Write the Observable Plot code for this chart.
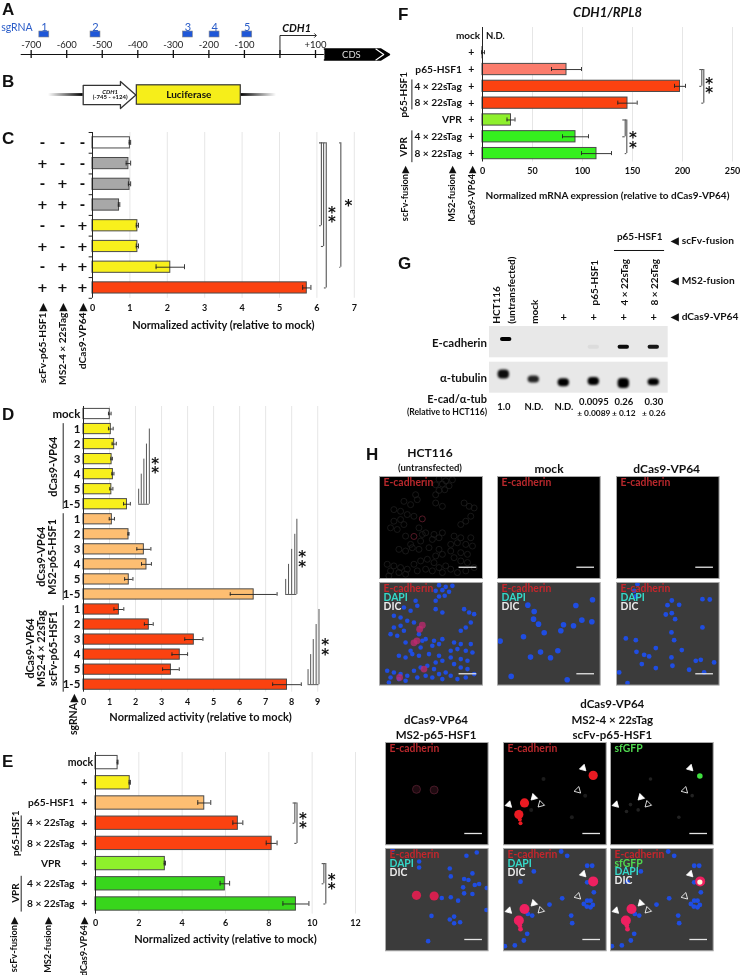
<!DOCTYPE html>
<html><head><meta charset="utf-8">
<script src="https://cdn.jsdelivr.net/npm/d3@7"></script>
<script src="https://cdn.jsdelivr.net/npm/@observablehq/plot@0.6"></script>
<style>
html,body{margin:0;padding:0;background:#fff}
#root{position:relative;width:741px;height:975px;overflow:hidden;filter:blur(0.3px)}
#root svg{position:absolute;max-width:none}
.letter{position:absolute;font:bold 17px "Liberation Sans",sans-serif;color:#111;line-height:1}
.head{position:absolute;font:bold 12px Lato,sans-serif;color:#111;transform:translate(-50%,-50%);white-space:nowrap}
</style></head><body><div id="root"></div>
<script>
// ---------- Panel C ----------
const cCols = ["scFv-p65-HSF1","MS2-4 × 22sTag","dCas9-VP64"];
const cMatrix = [["-","-","-"],["+","-","-"],["-","+","-"],["+","+","-"],["-","-","+"],["+","-","+"],["-","+","+"],["+","+","+"]];
const cValues = [1.0,0.96,0.99,0.71,1.2,1.2,2.08,5.73];
const cErrors = [0.02,0.06,0.03,0.02,0.03,0.03,0.38,0.11];
const cGroups = ["mock","gray","gray","gray","yellow","yellow","yellow","red"];
// ---------- Panel D ----------
const dLabels = ["mock","1","2","3","4","5","1-5","1","2","3","4","5","1-5","1","2","3","4","5","1-5"];
const dValues = [1.01,1.05,1.18,1.08,1.13,1.07,1.67,1.09,1.73,2.32,2.42,1.74,6.54,1.36,2.51,4.24,3.7,3.36,7.82];
const dErrors = [0.05,0.09,0.08,0.03,0.04,0.06,0.13,0.1,0.02,0.27,0.19,0.16,0.9,0.19,0.17,0.35,0.3,0.32,0.55];
const dGroups = ["mock","yellow","yellow","yellow","yellow","yellow","yellow","orange","orange","orange","orange","orange","orange","red","red","red","red","red","red"];
// ---------- Panel E ----------
const eNames = ["mock","","p65-HSF1","4 × 22sTag","8 × 22sTag","VPR","4 × 22sTag","8 × 22sTag"];
const eValues = [1.02,1.58,5.02,6.57,8.13,3.2,5.97,9.25];
const eErrors = [0.02,0.03,0.3,0.23,0.25,0.03,0.22,0.6];
const eGroups = ["mock","yellow","orange","red","red","lime","green","green"];
// ---------- Panel F ----------
const fNames = ["mock","","p65-HSF1","4 × 22sTag","8 × 22sTag","VPR","4 × 22sTag","8 × 22sTag"];
const fValues = [null,0.5,84,197.5,145,28.5,93,114];
const fErrors = [null,1.5,15,5.5,9.7,4,13,15];
const fGroups = ["mock","dark","salmon","red","red","lime","bright","bright"];
// ---------- Panel A ----------
const aTicks = [-700,-600,-500,-400,-300,-200,-100,0,100];
const aTickLabels = ["-700","-600","-500","-400","-300","-200","-100","","+100"];
const aGuides = [-663,-519,-259,-184,-92];
const aGuideNames = ["1","2","3","4","5"];
// ---------- Panel G ----------
const gLanes = [0,1,2,3,4,5];
const gEcadSignal = [1,0,0,0.05,0.95,0.9];
const gEcadPos = [13,20,20,20.7,20.7,20.7];
const gTubSignal = [0.95,0.85,1,1,1,1];
const gTubPos = [48,53,56.3,55,57,55.7];
const gTubThick = [9,7,8,8,10,7];
const gRatio = ["1.0","N.D.","N.D.","0.0095","0.26","0.30"];
const gRatioErr = ["","","","± 0.0089","± 0.12","± 0.26"];
// ---------- Panel H (cell positions in the field, 0-308) ----------
const hctCells = [[178,8],[198,13],[218,10],[168,25],[188,23],[208,28],[178,42],[195,40],[168,55],[108,55],[113,70],[73,75],[93,85],[168,80],[188,90],[43,100],[63,105],[83,115],[103,120],[63,130],[43,135],[73,145],[33,155],[53,160],[118,155],[138,170],[78,180],[128,175],[163,175],[188,170],[158,190],[178,185],[123,195],[93,205],[253,80],[268,90],[283,95],[258,135],[273,120],[243,145],[223,180],[243,185],[233,200],[213,205],[273,185],[258,205],[278,210],[243,230],[263,235],[58,220],[78,225],[98,215],[118,220],[148,215],[178,220],[188,235],[168,240],[213,225],[23,265],[43,270],[63,275],[83,280],[33,285],[58,290],[78,295],[103,265],[123,255],[143,250],[163,260],[113,285],[138,280],[158,285],[178,275],[198,270],[188,290],[213,280],[233,290],[258,285],[283,275],[28,300],[223,245],[243,255],[263,260]];
const hctRed = [[128,128],[103,181],[60,285],[133,260],[120,140],[112,175]];
const mockCells = [[91,68],[110,87],[108,110],[123,125],[140,151],[190,145],[198,127],[228,130],[253,113],[283,118],[235,69],[285,52],[78,163],[8,176],[129,209],[181,205],[99,224],[159,226],[41,282],[209,292]];
const dcasCells = [[63,5],[53,25],[58,42],[166,54],[188,67],[153,68],[258,50],[280,51],[148,96],[166,92],[176,110],[258,135],[165,150],[173,173],[58,173],[28,168],[196,203],[60,208],[83,217],[98,222],[118,197],[165,225],[76,245],[118,257],[168,250],[253,232],[238,235],[293,240],[218,262],[8,270],[33,302],[263,270]];
const ms2Cells = [[274,12],[243,22],[101,39],[193,60],[196,84],[261,75],[236,92],[249,95],[281,107],[268,110],[304,119],[233,117],[261,137],[236,135],[196,147],[218,157],[303,185],[193,214],[206,205],[224,222],[206,225],[138,203],[128,279],[169,149],[21,4],[101,57]];
const ms2Red = [[93,141],[146,143]];
const synCells = [[51,100],[91,69],[173,9],[191,22],[251,52],[266,52],[251,102],[271,132],[251,157],[261,177],[241,167],[261,157],[138,169],[86,202],[203,202],[206,225],[73,197],[71,257],[61,277],[34,292],[4,294],[176,150],[250,175],[268,170]];
const synRed = [[46,217],[63,182],[269,99]];
const synTail = [[49,232],[51,243]];
const synGreen = [[268,101]];
const synFilled = [[16,187,135],[91,165,225],[239,77,135]];
const synHollow = [[112,186,225],[223,144,135]];
const synFaint = [[48,208],[83,203],[60,187],[245,160],[205,225],[120,110]];
const scaleBar = [238,291];

const palette = {mock:"#ffffff",gray:"#a8a8a8",yellow:"#f8f01c",orange:"#fdbe72",red:"#fb4210",
  lime:"#8ef02c",green:"#38d61c",bright:"#35f01e",salmon:"#fb7c6c",dark:"#222"};
const BAR_STROKE = "#4a4a4a", BRACKET = "#555", GRID = "#e6e6e6", FONT = "Lato";
const ARROW = "\u2009▶";
const root = document.getElementById("root");

function panel({frame,pad=[0,0,0,0],x,y,marks}){
  const [x0,y0,x1,y1]=frame,[pl,pt,pr,pb]=pad;
  const el = Plot.plot({
    width:x1-x0+pl+pr,height:y1-y0+pt+pb,
    marginLeft:pl,marginTop:pt,marginRight:pr,marginBottom:pb,
    x:{axis:null,...x},y:{axis:null,...y},
    style:{background:"none",overflow:"visible",fontFamily:FONT},
    marks});
  el.style.left=(x0-pl)+"px";el.style.top=(y0-pt)+"px";
  root.appendChild(el);
}
const T=(data,o)=>Plot.text(data,{fontFamily:FONT,fontWeight:"bold",fill:"#111",lineAnchor:"middle",...o});
const rowsOf=(values,errors,groups,names)=>values.map((v,i)=>({i,v,e:errors[i],g:groups[i],name:names?names[i]:null}));

function barMarks(rows,ticks,half,title,titleDy,titleSize=11){
  const b=rows.filter(d=>d.v!=null);
  return [
    Plot.ruleX(ticks.filter(t=>t>0),{stroke:GRID,strokeWidth:1}),
    Plot.rect(b,{x1:()=>0,x2:"v",y1:d=>d.i-half,y2:d=>d.i+half,fill:d=>palette[d.g],stroke:BAR_STROKE,strokeWidth:1}),
    Plot.ruleX([0],{stroke:"#222",strokeWidth:1}),
    Plot.ruleY(b,{y:"i",x1:d=>d.v-d.e,x2:d=>d.v+d.e,stroke:"#222",strokeWidth:0.9}),
    Plot.ruleX(b,{x:d=>d.v-d.e,y1:d=>d.i-0.12,y2:d=>d.i+0.12,stroke:"#222",strokeWidth:0.9}),
    Plot.ruleX(b,{x:d=>d.v+d.e,y1:d=>d.i-0.12,y2:d=>d.i+0.12,stroke:"#222",strokeWidth:0.9}),
    Plot.axisX({ticks,tickSize:0,tickPadding:6,label:null,fontWeight:"bold",fontSize:9,fontFamily:FONT,fill:"#111",tickFormat:d3.format("d")}),
    T([title],{frameAnchor:"bottom",dy:titleDy,fontSize:titleSize})
  ];
}
// bracket: vertical rule at x from row a to row b, with caps reaching to cap
const bracket=(list,stroke=BRACKET)=>[
  Plot.ruleX(list,{x:"x",y1:"a",y2:"b",stroke,strokeWidth:1.1}),
  Plot.ruleY(list,{y:"a",x1:"cap",x2:"x",stroke,strokeWidth:1.1}),
  Plot.ruleY(list,{y:"b",x1:"cap",x2:"x",stroke,strokeWidth:1.1})
];
const stars=(list)=>T(list,{x:"x",y:"y",text:"s",fontFamily:"DejaVu Sans",fontSize:15,lineHeight:0.62,fill:"#111",dy:2.5});

// ===== Panel A =====
const cdsBody=[[125,5.5],[283,5.5],[308,0],[283,-5.5],[125,-5.5]];
panel({frame:[20,20,390,60],pad:[20,10,0,0],x:{domain:[-730,311]},y:{domain:[-6,34]},marks:[
  Plot.ruleY([0],{x1:()=>-728,x2:()=>125,stroke:"#111",strokeWidth:1.2}),
  Plot.ruleX(aTicks,{y1:()=>-4,y2:()=>4,stroke:"#111",strokeWidth:1.3}),
  T(aTicks.map((t,i)=>({t,l:aTickLabels[i]})),{x:"t",y:()=>10,text:"l",fontWeight:"normal",fontSize:9.5,fill:"#222"}),
  Plot.rect(aGuides,{x1:d=>d-14,x2:d=>d+14,y1:()=>17,y2:()=>23,fill:"#1f57d8",stroke:"#8a8a8a",strokeWidth:0.6}),
  T(aGuides.map((g,i)=>({g,n:aGuideNames[i]})),{x:"g",y:()=>27.5,text:"n",fontWeight:"normal",fontSize:11,fill:"#2a5cc8"}),
  T(["sgRNA"],{x:()=>-740,y:()=>27,fontWeight:"normal",fontSize:10.5,fill:"#2a5cc8"}),
  Plot.line([[0,0],[0,19],[100,19]],{x:d=>d[0],y:d=>d[1],stroke:"#111",strokeWidth:0.9,markerEnd:"arrow"}),
  T(["CDH1"],{x:()=>47,y:()=>26,fontStyle:"italic",fontSize:11,fontWeight:"bold"}),
  Plot.line(cdsBody,{x:d=>d[0],y:d=>d[1],fill:"#000",stroke:"#000"}),
  Plot.line([[270,5.5],[292,0],[270,-5.5]],{x:d=>d[0],y:d=>d[1],stroke:"#fff",strokeWidth:1.1}),
  T(["CDS"],{x:()=>201,y:()=>0,fontWeight:"normal",fontSize:9.5,fill:"#ddd"})
]});

// ===== Panel B =====
const promoter=[[-745,9.7],[-130,9.7],[-130,13.6],[124,0],[-130,-13.6],[-130,-9.7],[-745,-9.7]];
const gradDefs=()=>{const d=document.createElementNS("http://www.w3.org/2000/svg","defs");
  d.innerHTML='<linearGradient id="fadeL"><stop offset="0" stop-color="#000" stop-opacity="0"/><stop offset="1" stop-color="#000"/></linearGradient><linearGradient id="fadeR"><stop offset="0" stop-color="#000"/><stop offset="1" stop-color="#000" stop-opacity="0"/></linearGradient>';return d;};
panel({frame:[48,75.5,276,112.5],x:{domain:[-1318,2446]},y:{domain:[-18.5,18.5]},marks:[
  gradDefs,
  Plot.rect([0],{x1:()=>-1318,x2:()=>-745,y1:()=>-1.4,y2:()=>1.4,fill:"url(#fadeL)"}),
  Plot.rect([0],{x1:()=>1856,x2:()=>2446,y1:()=>-1.4,y2:()=>1.4,fill:"url(#fadeR)"}),
  Plot.line(promoter.concat([promoter[0]]),{x:d=>d[0],y:d=>d[1],fill:"#fff",stroke:"#333",strokeWidth:1.3}),
  Plot.rect([0],{x1:()=>140,x2:()=>1856,y1:()=>-9.7,y2:()=>9.7,fill:"#f6ee1a",stroke:"#333",strokeWidth:1.2}),
  T(["Luciferase"],{x:()=>998,y:()=>0,fontSize:10}),
  T(["CDH1"],{x:()=>-300,y:()=>3.4,fontSize:6,fontStyle:"italic"}),
  T(["(-745 - +124)"],{x:()=>-300,y:()=>-2,fontSize:6})
]});

// ===== Panel C =====
const cRows=rowsOf(cValues,cErrors,cGroups);
const cEdges=d3.range(-0.5,8,1);
panel({frame:[91.7,131.6,353.5,297.4],pad:[0,0,10,34],x:{domain:[0,7]},y:{domain:[7.5,-0.5]},marks:[
  ...barMarks(cRows,[0,1,2,3,4,5,6,7],0.27,"Normalized activity (relative to mock)",27),
  Plot.ruleY(cEdges,{y:d=>d,x1:()=>-0.09,x2:()=>0,stroke:"#222"}),
  ...bracket([{x:6.12,a:0,b:4,cap:6.07},{x:6.18,a:0,b:5,cap:6.12},{x:6.25,a:0,b:7,cap:6.2},{x:6.64,a:0,b:6,cap:6.61}]),
  stars([{x:6.4,y:3.57,s:"*\n*"},{x:6.84,y:3,s:"*"}])
]});
const cCells=cMatrix.flatMap((r,i)=>r.map((s,j)=>({i,col:cCols[j],s})));
panel({frame:[41.7,131.6,82.3,297.4],pad:[10,0,10,100],x:{type:"point",domain:cCols,padding:0},y:{domain:[7.5,-0.5]},marks:[
  T(cCells,{x:"col",y:"i",text:"s",fontSize:13,fontFamily:"DejaVu Sans"}),
  T(cCols,{x:d=>d,frameAnchor:"bottom",dy:5,rotate:-90,textAnchor:"end",text:d=>d+ARROW,fontSize:10.2})
]});

// ===== Panel D =====
const dRows=rowsOf(dValues,dErrors,dGroups,dLabels);
const combRows=(xs,base)=>xs.map((x,k)=>({x,a:base-1-k,b:base}));
const comb=[...combRows([2.12,2.22,2.32,2.42,2.53],6),...combRows([7.77,7.88,8.0,8.12,8.2],12),...combRows([8.63,8.73,8.83,8.94,9.05],18)];
const dGroupLabels=[
  {t:"dCas9-VP64",x:-1.15,y:3.5},
  {t:"dCsa9-VP64",x:-1.6,y:9.5},{t:"MS2-p65-HSF1",x:-1.18,y:9.5},
  {t:"dCas9-VP64",x:-2.02,y:15.6},{t:"MS2-4 × 22sTag",x:-1.6,y:15.6},{t:"scFv-p65-HSF1",x:-1.17,y:15.6}];
const dGroupLines=[{x:-0.78,a:0.64,b:6.35},{x:-0.78,a:6.63,b:12.4},{x:-0.78,a:12.75,b:18.5}];
panel({frame:[82.5,405.8,316.7,691.5],pad:[80,0,20,45],x:{domain:[0,9]},y:{domain:[18.5,-0.5]},marks:[
  ...barMarks(dRows,[0,1,2,3,4,5,6,7,8,9],0.34,"Normalized activity (relative to mock)",25),
  Plot.ruleX(comb,{x:"x",y1:"a",y2:"b",stroke:BRACKET,strokeWidth:1}),
  Plot.ruleY([{a:2.12,b:2.53,y:6},{a:7.77,b:8.2,y:12},{a:8.63,b:9.05,y:18}],{y:"y",x1:"a",x2:"b",stroke:BRACKET,strokeWidth:1}),
  Plot.ruleX(dGroupLines,{x:"x",y1:"a",y2:"b",stroke:"#222",strokeWidth:1}),
  T(dRows,{x:()=>0,y:"i",text:"name",textAnchor:"end",dx:-3.2,fontSize:11.5}),
  T(dGroupLabels,{x:"x",y:"y",text:"t",rotate:-90,fontSize:10.8}),
  T(["sgRNA"+ARROW],{x:()=>-0.365,y:()=>18.6,rotate:-90,textAnchor:"end",fontSize:10.5}),
  stars([{x:2.75,y:3.57,s:"*\n*"},{x:8.4,y:9.8,s:"*\n*"},{x:9.29,y:15.66,s:"*\n*"}])
]});

// ===== Panel E =====
const eRows=rowsOf(eValues,eErrors,eGroups,eNames);
panel({frame:[95.3,752.2,355.3,913.8],pad:[95,0,10,61],x:{domain:[0,12]},y:{domain:[7.5,-0.5]},marks:[
  ...barMarks(eRows,[0,2,4,6,8,10,12],0.33,"Normalized activity (relative to mock)",25),
  ...bracket([{x:9.2,a:2,b:3,cap:9.12},{x:9.3,a:2,b:4,cap:9.2},{x:10.54,a:5,b:6,cap:10.46},{x:10.63,a:5,b:7,cap:10.54}]),
  T(["mock"],{x:()=>0,y:()=>0,textAnchor:"end",dx:-2.3,fontSize:10.5}),
  T(eRows.filter(d=>d.i>0),{x:()=>0,y:"i",text:()=>"+",dx:-11.3,fontSize:10.5}),
  T(eRows.filter(d=>d.i>1&&d.name!="VPR"),{x:()=>0,y:"i",text:"name",textAnchor:"end",fontSize:10.2,dx:-21}),
  T(eRows.filter(d=>d.name=="VPR"),{x:()=>0,y:"i",text:"name",textAnchor:"middle",dx:-44.6,fontSize:10.2}),
  Plot.ruleX([{x:-3.43,a:2.64,b:4.43},{x:-3.43,a:5.63,b:7.4}],{x:"x",y1:"a",y2:"b",stroke:"#222"}),
  T([{t:"p65-HSF1",y:3.5},{t:"VPR",y:6.46}],{x:()=>-3.66,y:"y",text:"t",rotate:-90,fontSize:10}),
  T([{t:"scFv-fusion"+ARROW,x:-3.74},{t:"MS2-fusion"+ARROW,x:-2.2},{t:"dCas9-VP64"+ARROW,x:-0.52}],{x:"x",y:()=>7.64,text:"t",rotate:-90,textAnchor:"end",fontSize:9.2}),
  stars([{x:9.57,y:3,s:"*\n*"},{x:10.9,y:6,s:"*\n*"}])
]});

// ===== Panel F =====
const fRows=rowsOf(fValues,fErrors,fGroups,fNames);
panel({frame:[482.3,26.6,732.3,161.1],pad:[90,26,8,62],x:{domain:[0,250]},y:{domain:[7.5,-0.5]},marks:[
  ...barMarks(fRows,[0,50,100,150,200,250],0.335,"Normalized mRNA expression (relative to dCas9-VP64)",34,10),
  ...bracket([{x:219.3,a:2,b:3,cap:217.3},{x:221.3,a:2,b:4,cap:219.3},{x:142.7,a:5,b:6,cap:140.3},{x:144.3,a:5,b:7,cap:142.7}]),
  T(["mock"],{x:()=>0,y:()=>0,textAnchor:"end",dx:-2.3,fontSize:10}),
  T(["N.D."],{x:()=>0,y:()=>0,textAnchor:"start",dx:3.5,fontSize:9.5}),
  T(fRows.filter(d=>d.i>0),{x:()=>0,y:"i",text:()=>"+",dx:-11.3,fontSize:10.5}),
  T(fRows.filter(d=>d.i>1),{x:()=>0,y:"i",text:"name",textAnchor:"end",dx:-20.6,fontSize:10.2}),
  Plot.ruleX([{x:-70.6,a:2.62,b:4.4},{x:-70.6,a:5.65,b:7.54}],{x:"x",y1:"a",y2:"b",stroke:"#222"}),
  T([{t:"p65-HSF1",y:3.5},{t:"VPR",y:6.6}],{x:()=>-78.3,y:"y",text:"t",rotate:-90,fontSize:10}),
  T([{t:"scFv-fusion"+ARROW,x:-77.3},{t:"MS2-fusion"+ARROW,x:-30.6},{t:"dCas9-VP64"+ARROW,x:-10}],{x:"x",y:()=>7.73,text:"t",rotate:-90,textAnchor:"end",fontSize:9.2}),
  stars([{x:226.7,y:3.1,s:"*\n*"},{x:150.4,y:6.35,s:"*\n*"}]),
  T(["CDH1/RPL8"],{frameAnchor:"top",dy:-14.6,fontSize:13,fontStyle:"italic"})
]});

// ===== Panel G =====
const bandW=0.19;
const ecad=gLanes.map(l=>({l,s:gEcadSignal[l],p:gEcadPos[l]})).filter(d=>d.s>0);
const tub=gLanes.map(l=>({l,s:gTubSignal[l],p:gTubPos[l],h:gTubThick[l]}));
const ratios=gLanes.map(l=>({l,r:gRatio[l],e:gRatioErr[l]}));
const gRight=[{t:"◀ scFv-fusion",y:-86},{t:"◀ MS2-fusion",y:-46},{t:"◀ dCas9-VP64",y:-10}];
const gLeft=[{t:"E-cadherin",y:17,fs:11.5},{t:"α-tubulin",y:52,fs:11.5},{t:"E-cad/α-tub",y:73,fs:11},{t:"(Relative to HCT116)",y:86,fs:8.6}];
panel({frame:[489,326,667.7,392.7],pad:[110,100,73,30],x:{domain:[-0.477,5.48]},y:{domain:[66.7,0]},marks:[
  Plot.rect([[0,31.3],[35.7,66.7]],{x1:()=>-0.477,x2:()=>5.48,y1:d=>d[0],y2:d=>d[1],fill:"#e8e8e8"}),
  Plot.rect(ecad,{x1:d=>d.l-bandW+(d.l==0?0.08:0),x2:d=>d.l+bandW+(d.l==0?0.08:0),y1:d=>d.p-2,y2:d=>d.p+2,fill:"#000",fillOpacity:"s",rx:2,imageFilter:"blur(0.7px)"}),
  Plot.rect(tub,{x1:d=>d.l-bandW,x2:d=>d.l+bandW,y1:d=>d.p-d.h/2,y2:d=>d.p+d.h/2,fill:"#000",fillOpacity:"s",rx:4,imageFilter:"blur(1px)"}),
  T([{t:"HCT116",x:-0.22,y:-2.7},{t:"(untransfected)",x:0.28,y:-2.7},{t:"mock",x:1.02,y:-2.7},{t:"p65-HSF1",x:3.02,y:-21},{t:"4 × 22sTag",x:4.03,y:-21},{t:"8 × 22sTag",x:5.02,y:-21}],
    {x:"x",y:"y",text:"t",rotate:-90,textAnchor:"start",fontSize:10}),
  T([2,3,4,5],{x:d=>d,y:()=>-9,text:()=>"+",fontSize:11}),
  T(["p65-HSF1"],{x:()=>4.53,y:()=>-90,fontSize:10}),
  Plot.ruleY([-76],{x1:()=>3.69,x2:()=>5.36,stroke:"#111"}),
  T(gRight,{frameAnchor:"right",y:"y",text:"t",textAnchor:"start",dx:3,fontSize:10.2}),
  T(gLeft,{frameAnchor:"left",y:"y",text:"t",textAnchor:"end",dx:-2.5,fontSize:"fs"}),
  T(ratios.filter(d=>!d.e),{x:"l",y:()=>80.5,text:"r",fontSize:9.5}),
  T(ratios.filter(d=>d.e),{x:"l",y:()=>75,text:"r",fontSize:9.5}),
  T(ratios.filter(d=>d.e),{x:"l",y:()=>86.7,text:"e",fontSize:8.4})
]});

// ===== Panel H =====
const lab=(t,c)=>({t,c});
const stack=(list)=>list.map((d,k)=>T([d],{frameAnchor:"top-left",text:"t",fill:"c",dx:4,dy:6+k*(list.length>3?8.8:9),fontSize:10.4}));
const RED="#b8282c",CY="#35d8c8",WH="#ececec",GR="#4fd84f";
const blue=(pts,r)=>Plot.dot(pts,{x:d=>d[0],y:d=>d[1],r,fill:"#1f4de2",clip:"frame",imageFilter:"blur(0.5px)"});
const cell=(pts,r,fill,o={})=>Plot.dot(pts,{x:d=>d[0],y:d=>d[1],r,fill,clip:"frame",imageFilter:"blur(0.6px)",...o});
const ring=(pts,r,stroke,o={})=>Plot.dot(pts,{x:d=>d[0],y:d=>d[1],r,fill:"none",stroke,strokeWidth:0.8,clip:"frame",...o});
const tri=(pts,fill)=>Plot.dot(pts,{x:d=>d[0],y:d=>d[1],rotate:d=>d[2],symbol:"triangle",r:2.5,fill,stroke:"#fff",strokeWidth:0.8});
function microL(frame,bg,list,layers){
  panel({frame,x:{domain:[0,308]},y:{domain:[308,0]},marks:[
    Plot.frame({fill:bg,stroke:"none"}),...layers,
    Plot.ruleY([274],{x1:()=>scaleBar[0],x2:()=>scaleBar[1],stroke:"#e4e4e4",strokeWidth:1.3}),
    ...stack(list),Plot.frame({stroke:"#a9a9a9",strokeWidth:1})]});
}
const OV="#3b3b3b",K="#000";
const ovLabels=[lab("E-cadherin","#c4262c"),lab("DAPI",CY),lab("DIC",WH)];
const ovGfp=[lab("E-cadherin","#c4262c"),lab("sfGFP",GR),lab("DAPI",CY),lab("DIC",WH)];
const top1=[lab("E-cadherin",RED)];
// row 1
microL([379,475.7,482,577.7],K,top1,[ring(hctCells,3,"#1e1e1e"),ring(hctRed.slice(0,2),3,"#6a2030")]);
microL([379,581.7,482,684.3],OV,ovLabels,[blue(hctCells,2.3),cell(hctRed,3.4,"#c02a70",{fillOpacity:0.75})]);
microL([497.3,475.7,600,577.7],K,top1,[]);
microL([497.3,581.7,600,684.3],OV,ovLabels,[blue(mockCells,2.8)]);
microL([615.7,475.7,718.3,577.7],K,top1,[]);
microL([615.7,581.7,718.3,684.3],OV,ovLabels,[blue(dcasCells,2.4)]);
// row 2
microL([384.7,741.7,487.3,844],K,top1,[cell(ms2Red,4,"#1e0a10"),ring(ms2Red,4,"#562030")]);
microL([384.7,847.7,487.3,950],OV,ovLabels,[blue(ms2Cells,2.3),cell(ms2Red,4.6,"#d5204e")]);
microL([503,741.7,605.7,844],K,top1,[cell(synFaint,2,"#1c1c1c"),cell(synRed,4.6,"#ea1a22"),cell(synTail,2,"#ea1a22"),tri(synFilled,"#fff"),tri(synHollow,"none")]);
microL([503,847.7,605.7,950],OV,ovLabels,[blue(synCells,2.4),cell(synRed,5,"#ee2060"),cell(synTail,2.4,"#ee2060"),tri(synFilled,"#fff"),tri(synHollow,"none")]);
microL([610,741.7,712.7,844],K,[lab("sfGFP",GR)],[cell(synFaint,1.8,"#222"),cell(synGreen,2.8,"#3fe03f"),tri(synFilled,"#fff"),tri(synHollow,"none")]);
microL([610,847.7,712.7,950],OV,ovGfp,[blue(synCells,2.4),cell(synRed,5,"#ee2060"),cell(synTail,2.4,"#ee2060"),cell(synGreen,2.6,"#fff6d8"),tri(synFilled,"#fff"),tri(synHollow,"none")]);

// ---------- Headings and panel letters ----------
const letters=[["A",2,1],["B",2,73],["C",2,130],["D",2,406],["E",2,753],["F",398,6],["G",398,255],["H",366,446]];
letters.forEach(([t,x,y])=>{const e=document.createElement("div");e.className="letter";e.textContent=t;e.style.left=x+"px";e.style.top=y+"px";root.appendChild(e);});
const heads=[["HCT116",430,451.7,12],["(untransfected)",430,466.7,9.5],["mock",549,467.7,12],["dCas9-VP64",666.7,467.7,12],
 ["dCas9-VP64",436,719,11.5],["MS2-p65-HSF1",436,734,11.5],["dCas9-VP64",612.3,703.3,11.5],["MS2-4 × 22sTag",612.3,718.7,11.5],["scFv-p65-HSF1",612.3,734,11.5]];
heads.forEach(([t,x,y,s])=>{const e=document.createElement("div");e.className="head";e.textContent=t;e.style.left=x+"px";e.style.top=y+"px";e.style.fontSize=s+"px";root.appendChild(e);});
</script></body></html>
